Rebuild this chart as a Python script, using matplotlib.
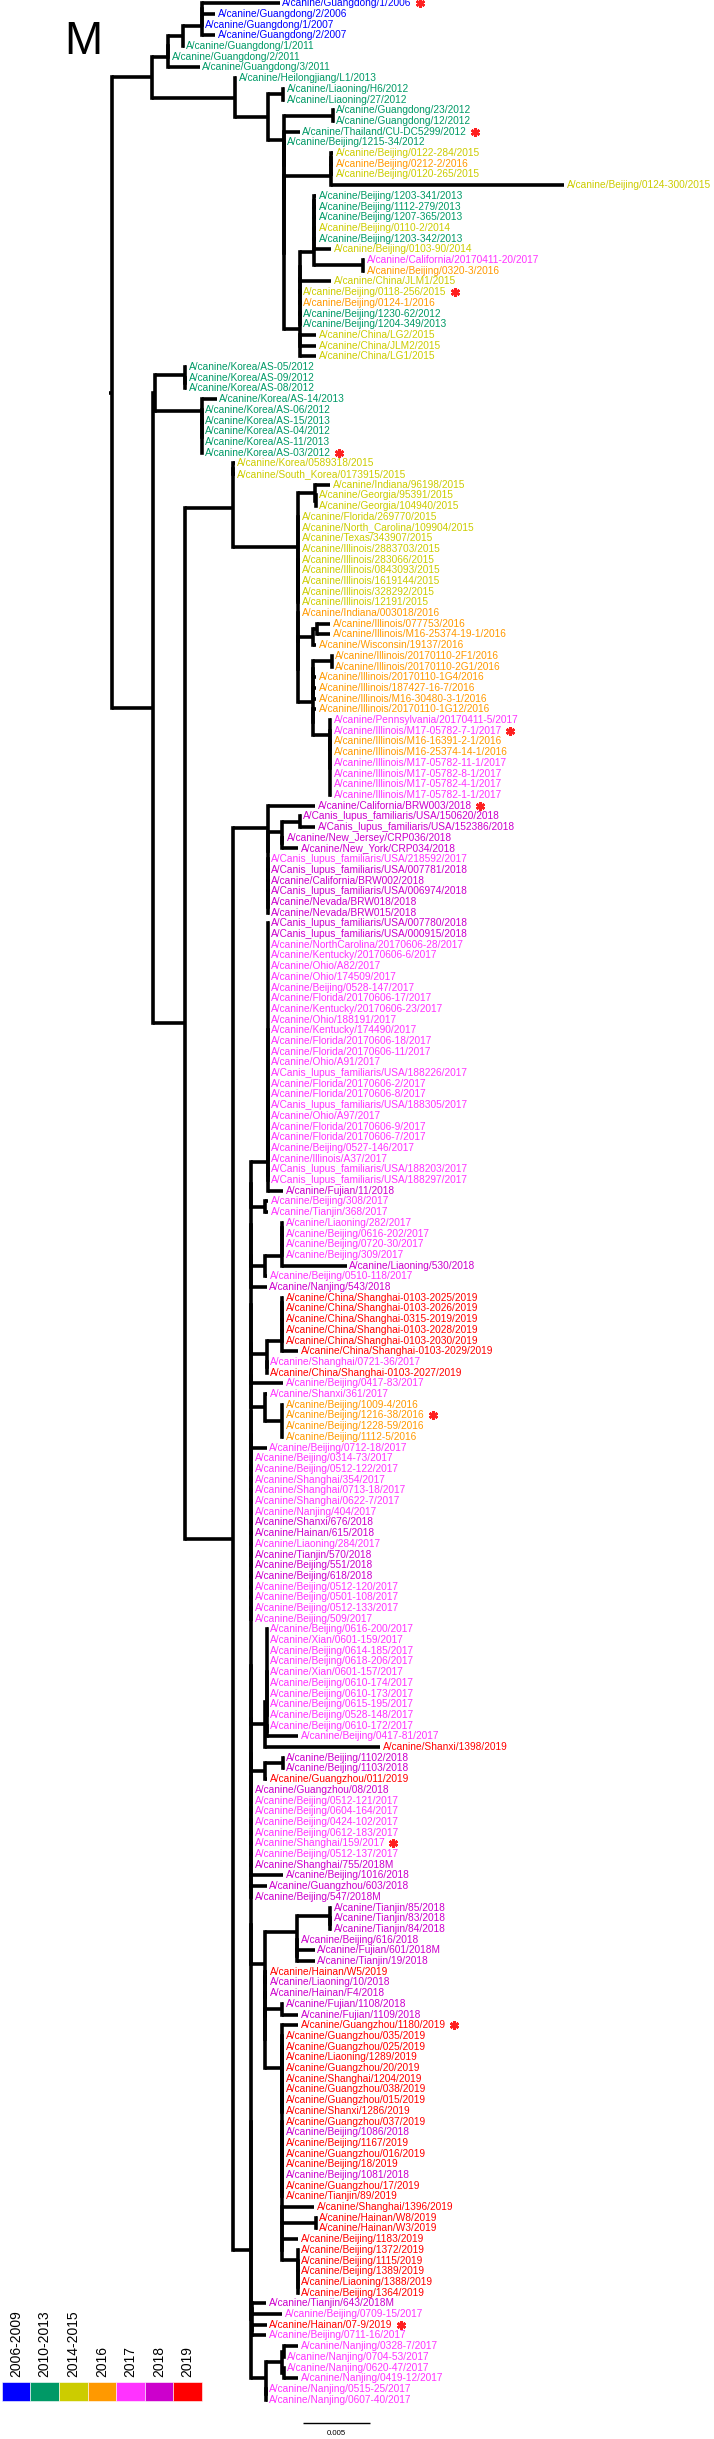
import re
import matplotlib
matplotlib.use("Agg")
import matplotlib.pyplot as plt
from matplotlib.collections import LineCollection
from matplotlib.patches import Rectangle

plt.rcParams['font.family'] = ['Liberation Sans', 'DejaVu Sans']

W_PX, H_PX, DPI = 714, 2439, 100

TIP_LABELS = [
    "A/canine/Guangdong/1/2006", "A/canine/Guangdong/2/2006", "A/canine/Guangdong/1/2007",
    "A/canine/Guangdong/2/2007", "A/canine/Guangdong/1/2011", "A/canine/Guangdong/2/2011",
    "A/canine/Guangdong/3/2011", "A/canine/Heilongjiang/L1/2013", "A/canine/Liaoning/H6/2012",
    "A/canine/Liaoning/27/2012", "A/canine/Guangdong/23/2012", "A/canine/Guangdong/12/2012",
    "A/canine/Thailand/CU-DC5299/2012", "A/canine/Beijing/1215-34/2012", "A/canine/Beijing/0122-284/2015",
    "A/canine/Beijing/0212-2/2016", "A/canine/Beijing/0120-265/2015", "A/canine/Beijing/0124-300/2015",
    "A/canine/Beijing/1203-341/2013", "A/canine/Beijing/1112-279/2013", "A/canine/Beijing/1207-365/2013",
    "A/canine/Beijing/0110-2/2014", "A/canine/Beijing/1203-342/2013", "A/canine/Beijing/0103-90/2014",
    "A/canine/California/20170411-20/2017", "A/canine/Beijing/0320-3/2016", "A/canine/China/JLM1/2015",
    "A/canine/Beijing/0118-256/2015", "A/canine/Beijing/0124-1/2016", "A/canine/Beijing/1230-62/2012",
    "A/canine/Beijing/1204-349/2013", "A/canine/China/LG2/2015", "A/canine/China/JLM2/2015",
    "A/canine/China/LG1/2015", "A/canine/Korea/AS-05/2012", "A/canine/Korea/AS-09/2012",
    "A/canine/Korea/AS-08/2012", "A/canine/Korea/AS-14/2013", "A/canine/Korea/AS-06/2012",
    "A/canine/Korea/AS-15/2013", "A/canine/Korea/AS-04/2012", "A/canine/Korea/AS-11/2013",
    "A/canine/Korea/AS-03/2012", "A/canine/Korea/0589318/2015", "A/canine/South_Korea/0173915/2015",
    "A/canine/Indiana/96198/2015", "A/canine/Georgia/95391/2015", "A/canine/Georgia/104940/2015",
    "A/canine/Florida/269770/2015", "A/canine/North_Carolina/109904/2015", "A/canine/Texas/343907/2015",
    "A/canine/Illinois/2883703/2015", "A/canine/Illinois/283066/2015", "A/canine/Illinois/0843093/2015",
    "A/canine/Illinois/1619144/2015", "A/canine/Illinois/328292/2015", "A/canine/Illinois/12191/2015",
    "A/canine/Indiana/003018/2016", "A/canine/Illinois/077753/2016", "A/canine/Illinois/M16-25374-19-1/2016",
    "A/canine/Wisconsin/19137/2016", "A/canine/Illinois/20170110-2F1/2016", "A/canine/Illinois/20170110-2G1/2016",
    "A/canine/Illinois/20170110-1G4/2016", "A/canine/Illinois/187427-16-7/2016", "A/canine/Illinois/M16-30480-3-1/2016",
    "A/canine/Illinois/20170110-1G12/2016", "A/canine/Pennsylvania/20170411-5/2017", "A/canine/Illinois/M17-05782-7-1/2017",
    "A/canine/Illinois/M16-16391-2-1/2016", "A/canine/Illinois/M16-25374-14-1/2016", "A/canine/Illinois/M17-05782-11-1/2017",
    "A/canine/Illinois/M17-05782-8-1/2017", "A/canine/Illinois/M17-05782-4-1/2017", "A/canine/Illinois/M17-05782-1-1/2017",
    "A/canine/California/BRW003/2018", "A/Canis_lupus_familiaris/USA/150620/2018", "A/Canis_lupus_familiaris/USA/152386/2018",
    "A/canine/New_Jersey/CRP036/2018", "A/canine/New_York/CRP034/2018", "A/Canis_lupus_familiaris/USA/218592/2017",
    "A/Canis_lupus_familiaris/USA/007781/2018", "A/canine/California/BRW002/2018", "A/Canis_lupus_familiaris/USA/006974/2018",
    "A/canine/Nevada/BRW018/2018", "A/canine/Nevada/BRW015/2018", "A/Canis_lupus_familiaris/USA/007780/2018",
    "A/Canis_lupus_familiaris/USA/000915/2018", "A/canine/NorthCarolina/20170606-28/2017", "A/canine/Kentucky/20170606-6/2017",
    "A/canine/Ohio/A82/2017", "A/canine/Ohio/174509/2017", "A/canine/Beijing/0528-147/2017",
    "A/canine/Florida/20170606-17/2017", "A/canine/Kentucky/20170606-23/2017", "A/canine/Ohio/188191/2017",
    "A/canine/Kentucky/174490/2017", "A/canine/Florida/20170606-18/2017", "A/canine/Florida/20170606-11/2017",
    "A/canine/Ohio/A91/2017", "A/Canis_lupus_familiaris/USA/188226/2017", "A/canine/Florida/20170606-2/2017",
    "A/canine/Florida/20170606-8/2017", "A/Canis_lupus_familiaris/USA/188305/2017", "A/canine/Ohio/A97/2017",
    "A/canine/Florida/20170606-9/2017", "A/canine/Florida/20170606-7/2017", "A/canine/Beijing/0527-146/2017",
    "A/canine/Illinois/A37/2017", "A/Canis_lupus_familiaris/USA/188203/2017", "A/Canis_lupus_familiaris/USA/188297/2017",
    "A/canine/Fujian/11/2018", "A/canine/Beijing/308/2017", "A/canine/Tianjin/368/2017",
    "A/canine/Liaoning/282/2017", "A/canine/Beijing/0616-202/2017", "A/canine/Beijing/0720-30/2017",
    "A/canine/Beijing/309/2017", "A/canine/Liaoning/530/2018", "A/canine/Beijing/0510-118/2017",
    "A/canine/Nanjing/543/2018", "A/canine/China/Shanghai-0103-2025/2019", "A/canine/China/Shanghai-0103-2026/2019",
    "A/canine/China/Shanghai-0315-2019/2019", "A/canine/China/Shanghai-0103-2028/2019", "A/canine/China/Shanghai-0103-2030/2019",
    "A/canine/China/Shanghai-0103-2029/2019", "A/canine/Shanghai/0721-36/2017", "A/canine/China/Shanghai-0103-2027/2019",
    "A/canine/Beijing/0417-83/2017", "A/canine/Shanxi/361/2017", "A/canine/Beijing/1009-4/2016",
    "A/canine/Beijing/1216-38/2016", "A/canine/Beijing/1228-59/2016", "A/canine/Beijing/1112-5/2016",
    "A/canine/Beijing/0712-18/2017", "A/canine/Beijing/0314-73/2017", "A/canine/Beijing/0512-122/2017",
    "A/canine/Shanghai/354/2017", "A/canine/Shanghai/0713-18/2017", "A/canine/Shanghai/0622-7/2017",
    "A/canine/Nanjing/404/2017", "A/canine/Shanxi/676/2018", "A/canine/Hainan/615/2018",
    "A/canine/Liaoning/284/2017", "A/canine/Tianjin/570/2018", "A/canine/Beijing/551/2018",
    "A/canine/Beijing/618/2018", "A/canine/Beijing/0512-120/2017", "A/canine/Beijing/0501-108/2017",
    "A/canine/Beijing/0512-133/2017", "A/canine/Beijing/509/2017", "A/canine/Beijing/0616-200/2017",
    "A/canine/Xian/0601-159/2017", "A/canine/Beijing/0614-185/2017", "A/canine/Beijing/0618-206/2017",
    "A/canine/Xian/0601-157/2017", "A/canine/Beijing/0610-174/2017", "A/canine/Beijing/0610-173/2017",
    "A/canine/Beijing/0615-195/2017", "A/canine/Beijing/0528-148/2017", "A/canine/Beijing/0610-172/2017",
    "A/canine/Beijing/0417-81/2017", "A/canine/Shanxi/1398/2019", "A/canine/Beijing/1102/2018",
    "A/canine/Beijing/1103/2018", "A/canine/Guangzhou/011/2019", "A/canine/Guangzhou/08/2018",
    "A/canine/Beijing/0512-121/2017", "A/canine/Beijing/0604-164/2017", "A/canine/Beijing/0424-102/2017",
    "A/canine/Beijing/0612-183/2017", "A/canine/Shanghai/159/2017", "A/canine/Beijing/0512-137/2017",
    "A/canine/Shanghai/755/2018M", "A/canine/Beijing/1016/2018", "A/canine/Guangzhou/603/2018",
    "A/canine/Beijing/547/2018M", "A/canine/Tianjin/85/2018", "A/canine/Tianjin/83/2018",
    "A/canine/Tianjin/84/2018", "A/canine/Beijing/616/2018", "A/canine/Fujian/601/2018M",
    "A/canine/Tianjin/19/2018", "A/canine/Hainan/W5/2019", "A/canine/Liaoning/10/2018",
    "A/canine/Hainan/F4/2018", "A/canine/Fujian/1108/2018", "A/canine/Fujian/1109/2018",
    "A/canine/Guangzhou/1180/2019", "A/canine/Guangzhou/035/2019", "A/canine/Guangzhou/025/2019",
    "A/canine/Liaoning/1289/2019", "A/canine/Guangzhou/20/2019", "A/canine/Shanghai/1204/2019",
    "A/canine/Guangzhou/038/2019", "A/canine/Guangzhou/015/2019", "A/canine/Shanxi/1286/2019",
    "A/canine/Guangzhou/037/2019", "A/canine/Beijing/1086/2018", "A/canine/Beijing/1167/2019",
    "A/canine/Guangzhou/016/2019", "A/canine/Beijing/18/2019", "A/canine/Beijing/1081/2018",
    "A/canine/Guangzhou/17/2019", "A/canine/Tianjin/89/2019", "A/canine/Shanghai/1396/2019",
    "A/canine/Hainan/W8/2019", "A/canine/Hainan/W3/2019", "A/canine/Beijing/1183/2019",
    "A/canine/Beijing/1372/2019", "A/canine/Beijing/1115/2019", "A/canine/Beijing/1389/2019",
    "A/canine/Liaoning/1388/2019", "A/canine/Beijing/1364/2019", "A/canine/Tianjin/643/2018M",
    "A/canine/Beijing/0709-15/2017", "A/canine/Hainan/07-9/2019", "A/canine/Beijing/0711-16/2017",
    "A/canine/Nanjing/0328-7/2017", "A/canine/Nanjing/0704-53/2017", "A/canine/Nanjing/0620-47/2017",
    "A/canine/Nanjing/0419-12/2017", "A/canine/Nanjing/0515-25/2017", "A/canine/Nanjing/0607-40/2017",
]

STARRED_TIPS = [1, 13, 28, 43, 69, 76, 133, 173, 190, 218]

YEAR_BINS = ["2006-2009", "2010-2013", "2014-2015", "2016", "2017", "2018", "2019"]
YEAR_BIN_MAX = [2009, 2013, 2015, 2016, 2017, 2018, 2019]
YEAR_COLORS = ["#0000ff", "#009966", "#cccc00", "#ff9900", "#ff33ff", "#cc00cc", "#ff0000"]

# branch lengths below are in units of 1e-4 substitutions/site
BRANCH_UNIT = 1e-4
SCALE_BAR = 0.005

# ---- tree topology (Newick pieces, tips named t1..t225 in display order) ----
CLADE_A = "(((t1:57.7,t2:9.9):0,t3:0.4):0,t4:9.9)"
CLADE_C = "(((" + CLADE_A + ":13.9,t5:0.4):10.9,t6:0.5):0,t7:23.2)"
CLADE_J = "(((t15:1.6,t16:1.6):0,t17:1.6):0,t18:172.7)"
CLADE_N = "((((((t19:1.5,t20:1.5):0,t21:1.5):0,t22:1.5):0,t23:1.5):0,t24:12.6):0,(t25:0.7,t26:0.7):36.3)"
CLADE_MA = "(((((" + CLADE_N + ":10.7,t27:23.3):0,t28:0.7):0,t29:0.7):0,t30:0.7):0,t31:0.7)"
CLADE_M = "(" + CLADE_MA + ":0,(t32:12.1,t33:12.1,t34:12.1):0)"
CLADE_H = ("((t11:0.4,t12:0.4):36.3,(t13:11.6,(t14:0.4,(" + CLADE_J + ":34.7,"
           + CLADE_M + ":11.6):0):0):0)")
CLADE_D = "(" + CLADE_C + ":12.3,(t8:0.7,((t9:0.7,t10:0.7):10.9," + CLADE_H + ":11.6):24.7):61.7)"

CLADE_P = "(t35:0.7,(t36:0.7,t37:0.7):0)"
CLADE_R = "(t38:11.3,(t39:0.4,(t40:0.4,t41:0.4,t42:0.4,t43:0.4):0):0)"
CLADE_W = "(t46:11.1,(t47:0.4,t48:0.4):0.4)"
CLADE_G1 = "(t49:0.5,t50:0.5,t51:0.5,t52:0.5,t53:0.5,t54:0.5,t55:0.5,t56:0.5,t57:0.5)"
CLADE_X = "((t59:9.9,t60:9.9):2.5,t61:2)"
CLADE_Y2 = "(t68:0.7,(t69:0.7,(t70:0.7,t71:0.7,t72:0.7,t73:0.7,t74:0.7,t75:0.7):0):0)"
CLADE_Y = "((((t62:0.2,t63:0.2):13.6,t64:2):0,(t65:2,t66:2):0):0,(t67:2," + CLADE_Y2 + ":12.4):0)"
CLADE_V = ("(" + CLADE_W + ":12.4,(" + CLADE_G1 + ":0,(t58:0.5,(" + CLADE_X + ":11.1,"
           + CLADE_Y + ":11.1):0):0):0)")
CLADE_T = "((t44:0.9,t45:0.9):0," + CLADE_V + ":48.1)"
CLADE_Z = ("(t76:34.6,(((t77:0.4,t78:11.1):13.6,(t79:1.7,t80:12.3):0):9.9,"
           "(t81:0.4,(t82:0.4,(t83:0.4,(t84:0.4,(t85:0.4,t86:0.4):0):0):0):0):0):0)")
CLADE_ZZ = ("((((t87:0.4,t88:0.4,t89:0.4,t90:0.4,t91:0.4,t92:0.4,t93:0.4,t94:0.4,t95:0.4,t96:0.4,"
            "t97:0.4,t98:0.4,t99:0.4,t100:0.4,t101:0.4,t102:0.4,t103:0.4,t104:0.4,t105:0.4,t106:0.4,"
            "t107:0.4):0,(t108:0.4,t109:0.4):0):0,(t110:0.4,t111:0.4):0):0,t112:10.9)")
CLADE_AB = "(t113:2.2,t114:2.2)"
CLADE_AC = "(((((t115:1.3,t116:1.3):0,t117:1.3):0,t118:1.3):0,t119:48.1):12.4,t120:1.5)"
CLADE_AE = ("((((((t122:1.3,t123:1.3):0,t124:1.3):0,t125:1.3):0,t126:1.3):0,t127:12.3):11.1,"
            "(t128:0.2,t129:0.2):0)")
CLADE_AG = "(t131:1.5,(t132:1.3,t133:1.3,t134:1.3,t135:1.3):12.4)"
CLADE_AI = ("(((t153:0.4,t154:0.4,t155:0.4,t156:0.4,t157:0.4,t158:0.4,t159:0.4,t160:0.4,t161:0.4):0,"
            "(t162:0.4,t163:23.2):0):1.5,t164:85.2)")
CLADE_AK = "((t165:0.3,t166:0.3):13.6,t167:1.5)"
CLADE_AN = "((t179:0.7,(t180:0.7,t181:0.7):0):24.7,(t182:1.3,(t183:13.3,t184:13.3):0):0)"
CLADE_AP = "(t188:1.3,t189:12.3)"
CLADE_RA = "(t191:1.3,(t192:1.3,(t193:1.3,(t194:1.3,(t195:1.3,(t196:1.3,(t197:1.3,t198:1.3):0):0):0):0):0):0)"
CLADE_RB1 = "(t199:1.3,(t200:1.3,(t201:1.3,(t202:1.3,(t203:1.3,(t204:1.3,(t205:1.3,t206:1.3):0):0):0):0):0):0)"
CLADE_AS = "(t211:0.4,(t212:0.4,(t213:0.4,(t214:0.4,t215:0.4):0):0):0)"
CLADE_RB2 = "(t207:24.1,((t208:0.4,t209:0.4):25.4,(t210:12.1," + CLADE_AS + ":12.2):0):0)"
CLADE_AQ = "(t190:12.3,(" + CLADE_RA + ":0,(" + CLADE_RB1 + ":0," + CLADE_RB2 + ":0):0):0)"
CLADE_AM = ("(" + CLADE_AN + ":23.5,((t185:1.5,t186:1.5):0,(t187:1.5,(" + CLADE_AP + ":12.4,"
            + CLADE_AQ + ":12.4):0):0):0)")
CLADE_G216 = "((t216:10.5,t217:22.4):0,(t218:10.9,t219:10.5):0)"
CLADE_AT = "(((t220:10.7,t221:0.4):1.1,(t222:0.4,t223:10.7):1.1):11.9,(t224:0.4,t225:0.4):0)"

# children hanging from the long 2017-2019 backbone (top to bottom), nested as a ladder
BACKBONE = [
    CLADE_ZZ + ":13.2", CLADE_AB + ":10.7", CLADE_AC + ":10.7", "t121:12", CLADE_AE + ":12",
    "t130:24.1", CLADE_AG + ":10.7", "t136:12",
    "t137:1.1", "t138:1.1", "t139:1.1", "t140:1.1", "t141:1.1", "t142:1.1", "t143:1.1", "t144:1.1",
    "t145:1.1", "t146:1.1", "t147:1.1", "t148:1.1", "t149:1.1", "t150:1.1", "t151:1.1", "t152:1.1",
    CLADE_AI + ":10.7", CLADE_AK + ":10.7",
    "t168:1.1", "t169:1.1", "t170:1.1", "t171:1.1", "t172:1.1", "t173:1.1", "t174:1.1", "t175:1.1",
    "t176:24.1", "t177:12", "t178:1.1", CLADE_AM + ":10.7", CLADE_G216 + ":1", CLADE_AT + ":11.5",
]


def ladder(items):
    s = "(" + items[0] + "," + items[1] + ")"
    for it in items[2:]:
        s = "(" + s + ":0," + it + ")"
    return s


CLADE_K = ladder(BACKBONE)
CLADE_U = "(" + CLADE_Z + ":25.9," + CLADE_K + ":12.7)"
CLADE_S = "(" + CLADE_T + ":35.8," + CLADE_U + ":35.8)"
CLADE_Q = "((" + CLADE_P + ":22.2," + CLADE_R + ":34.4):1.5," + CLADE_S + ":23.7)"
TREE = "(" + CLADE_D + ":29.4," + CLADE_Q + ":30.4);"
ROOT_STUB = 2.2


def parse_newick(s):
    pos = 0

    def node():
        nonlocal pos
        n = {"children": [], "name": None, "length": 0.0}
        if s[pos] == "(":
            pos += 1
            while True:
                n["children"].append(node())
                if s[pos] == ",":
                    pos += 1
                else:
                    pos += 1
                    break
        start = pos
        while s[pos] not in ",():;":
            pos += 1
        n["name"] = s[start:pos] or None
        if s[pos] == ":":
            pos += 1
            start = pos
            while s[pos] not in ",();":
                pos += 1
            n["length"] = float(s[start:pos])
        return n

    return node()


root = parse_newick(TREE)
leaves = []


def layout(n, depth):
    n["x"] = depth
    if not n["children"]:
        n["y"] = len(leaves)
        leaves.append(n)
    else:
        for c in n["children"]:
            layout(c, depth + c["length"])
        n["y"] = (n["children"][0]["y"] + n["children"][-1]["y"]) / 2.0


layout(root, 0.0)
assert [int(l["name"][1:]) for l in leaves] == list(range(1, len(TIP_LABELS) + 1))

hsegs, vsegs = [], []


def collect(n):
    if n["children"]:
        vsegs.append([(n["x"], n["children"][0]["y"]), (n["x"], n["children"][-1]["y"])])
        for c in n["children"]:
            if c["length"] > 0:
                hsegs.append([(n["x"], c["y"]), (c["x"], c["y"])])
            collect(c)


collect(root)
hsegs.append([(-ROOT_STUB, root["y"]), (0, root["y"])])


def year_color(label):
    yr = int(re.search(r"(\d{4})M?$", label).group(1))
    for mx, col in zip(YEAR_BIN_MAX, YEAR_COLORS):
        if yr <= mx:
            return col
    return YEAR_COLORS[-1]


# ---- figure / axes mapping ----
PX_PER_UNIT = 1.35        # horizontal pixels per 1e-4 subs/site
ROOT_PX = 112.0
LEAF0_PX, LEAF_STEP_PX = 3.3, 10.698

fig = plt.figure(figsize=(W_PX / DPI, H_PX / DPI), dpi=DPI)
ax = fig.add_axes([0, 0, 1, 1])
ax.set_xlim(-ROOT_PX / PX_PER_UNIT, (W_PX - ROOT_PX) / PX_PER_UNIT)
ax.set_ylim((H_PX - LEAF0_PX) / LEAF_STEP_PX, -LEAF0_PX / LEAF_STEP_PX)
ax.axis("off")

LW = 2.6
ax.add_collection(LineCollection(hsegs, colors="black", linewidths=LW, capstyle="butt"))
ax.add_collection(LineCollection(vsegs, colors="black", linewidths=LW, capstyle="projecting"))

LABEL_PAD = 2.6 / PX_PER_UNIT
texts = {}
for i, leaf in enumerate(leaves):
    lab = TIP_LABELS[i]
    t = ax.text(leaf["x"] + LABEL_PAD, leaf["y"], lab, fontsize=7.3, color=year_color(lab),
                ha="left", va="center")
    texts[i + 1] = t

fig.canvas.draw()
renderer = fig.canvas.get_renderer()
inv = ax.transData.inverted()
for tip in STARRED_TIPS:
    bb = texts[tip].get_window_extent(renderer)
    xd, _ = inv.transform((bb.x1 + 8.0, 0))
    ax.plot([xd], [leaves[tip - 1]["y"]], marker=(6, 2, 0), markersize=6.4,
            markeredgewidth=1.8, color="#ff2020", linestyle="none")

# scale bar
sb_x0 = (302.9 - ROOT_PX) / PX_PER_UNIT
sb_len = SCALE_BAR / BRANCH_UNIT
sb_y = (2423.3 - LEAF0_PX) / LEAF_STEP_PX
ax.plot([sb_x0, sb_x0 + sb_len], [sb_y, sb_y], color="black", lw=1.0, solid_capstyle="butt")
ax.text(sb_x0 + sb_len / 2, (2433.5 - LEAF0_PX) / LEAF_STEP_PX, "0.005", fontsize=5.6,
        ha="center", va="center", color="black")

# panel letter
fig.text(64.6 / W_PX, 1 - 53.5 / H_PX, "M", fontsize=33, ha="left", va="baseline", color="black")

# colour legend
box_w, box_top, box_h, box_x0 = 28.57, 2382.0, 18.7, 1.8
for k, (lab, col) in enumerate(zip(YEAR_BINS, YEAR_COLORS)):
    bx = box_x0 + k * box_w
    fig.add_artist(Rectangle((bx / W_PX, 1 - (box_top + box_h) / H_PX), box_w / W_PX, box_h / H_PX,
                             transform=fig.transFigure, facecolor=col, edgecolor="white", linewidth=0.4))
    fig.text((bx + box_w / 2) / W_PX, 1 - (box_top - 5) / H_PX, lab, rotation=90, fontsize=10,
             ha="center", va="bottom", color="black")

fig.savefig("out.png", dpi=DPI)
